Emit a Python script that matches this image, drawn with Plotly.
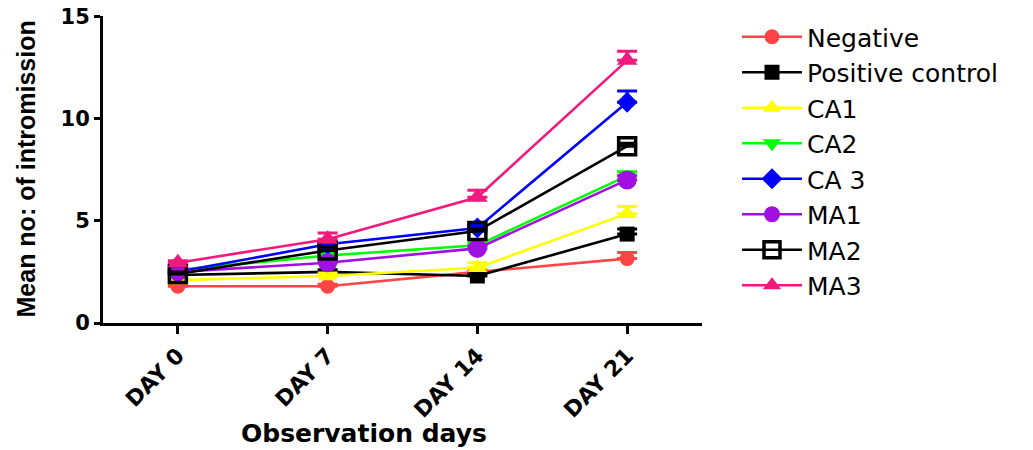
import plotly.graph_objects as go

days = ["DAY 0", "DAY 7", "DAY 14", "DAY 21"]
y_ticks = [0, 5, 10, 15]

negative = [1.8, 1.8, 2.5, 3.15]
negative_err = [0.1, 0.1, 0.1, 0.3]
positive = [2.35, 2.5, 2.3, 4.35]
positive_err = [0.1, 0.1, 0.1, 0.25]
ca1 = [2.1, 2.3, 2.7, 5.35]
ca1_err = [0.1, 0.15, 0.25, 0.35]
ca2 = [2.6, 3.3, 3.8, 7.2]
ca2_err = [0.1, 0.1, 0.1, 0.2]
ca3 = [2.5, 3.85, 4.65, 10.8]
ca3_err = [0.1, 0.1, 0.1, 0.55]
ma1 = [2.5, 2.95, 3.65, 7.0]
ma1_err = [0.1, 0.1, 0.1, 0.2]
ma2 = [2.4, 3.55, 4.5, 8.65]
ma2_err = [0.1, 0.15, 0.1, 0.15]
ma3 = [2.95, 4.1, 6.15, 12.85]
ma3_err = [0.1, 0.3, 0.35, 0.45]

names = ["Negative", "Positive control", "CA1", "CA2", "CA 3", "MA1", "MA2", "MA3"]
series = [negative, positive, ca1, ca2, ca3, ma1, ma2, ma3]
errors = [negative_err, positive_err, ca1_err, ca2_err, ca3_err, ma1_err, ma2_err, ma3_err]
colors = ["#FF4545", "#000000", "#FFFF00", "#00FF00", "#0000FF", "#A010E0", "#000000", "#F0197D"]
symbols = ["circle", "square", "triangle-up", "triangle-down", "diamond", "circle", "square-open", "triangle-up"]
sizes = [15, 15, 17, 17, 16, 19, 17, 18]

fig = go.Figure()
for name, y, err, c, s, sz in zip(names, series, errors, colors, symbols, sizes):
    fig.add_trace(go.Scatter(
        x=days, y=y, name=name, mode="lines+markers",
        line=dict(color=c, width=2.6),
        marker=dict(color=c, symbol=s, size=sz,
                    line=dict(color=c, width=3.5 if s.endswith("open") else 0)),
        error_y=dict(type="data", array=err, arrayminus=[0] * len(err), symmetric=False,
                     color=c, thickness=3, width=10),
        cliponaxis=False,
    ))

xtickfont = dict(family="DejaVu Sans", size=22, color="black", weight="bold")
ytickfont = dict(family="DejaVu Sans", size=21, color="black", weight="bold")

# page body has an 8px margin, so the figure is laid out 8px smaller
W, H = 1025, 442
L, R, T, B = 95, 694, 8, 315  # plot area edges in figure pixels
PH = B - T
PW = R - L

fig.update_layout(
    width=W, height=H,
    paper_bgcolor="white", plot_bgcolor="white",
    margin=dict(l=L, r=W - R, t=T, b=H - B, autoexpand=False),
    showlegend=True,
    legend=dict(
        xref="container", yref="container",
        x=729 / W, y=1 - 6 / H, xanchor="left", yanchor="top",
        font=dict(family="DejaVu Sans", size=25, color="black"),
        itemwidth=60, bgcolor="rgba(0,0,0,0)", tracegroupgap=0,
        maxheight=420,
    ),
    xaxis=dict(
        range=[-0.5, 3.5], showgrid=False, zeroline=False,
        showline=True, linecolor="black", linewidth=3,
        ticks="outside", ticklen=8, tickwidth=3, tickcolor="black",
        tickangle=-45, tickfont=xtickfont,
    ),
    yaxis=dict(
        range=[0, 15.02], tickmode="array", tickvals=y_ticks,
        showgrid=False, zeroline=False,
        showline=True, linecolor="black", linewidth=3,
        ticks="outside", ticklen=6, tickwidth=3, tickcolor="black",
        tickfont=ytickfont, ticklabeloverflow="allow",
    ),
    annotations=[
        dict(text="Observation days", xref="paper", yref="paper",
             x=(356 - L) / PW, y=(B - 425) / PH, xanchor="center", yanchor="middle",
             showarrow=False,
             font=dict(family="DejaVu Sans", size=25, color="black", weight="bold")),
        dict(text="Mean no: of intromission", xref="paper", yref="paper",
             x=(17 - L) / PW, y=0.5, xanchor="center", yanchor="middle",
             textangle=-90, showarrow=False,
             font=dict(family="Liberation Sans", size=25, color="black", weight="bold")),
    ],
)

fig.write_html("out.html")
